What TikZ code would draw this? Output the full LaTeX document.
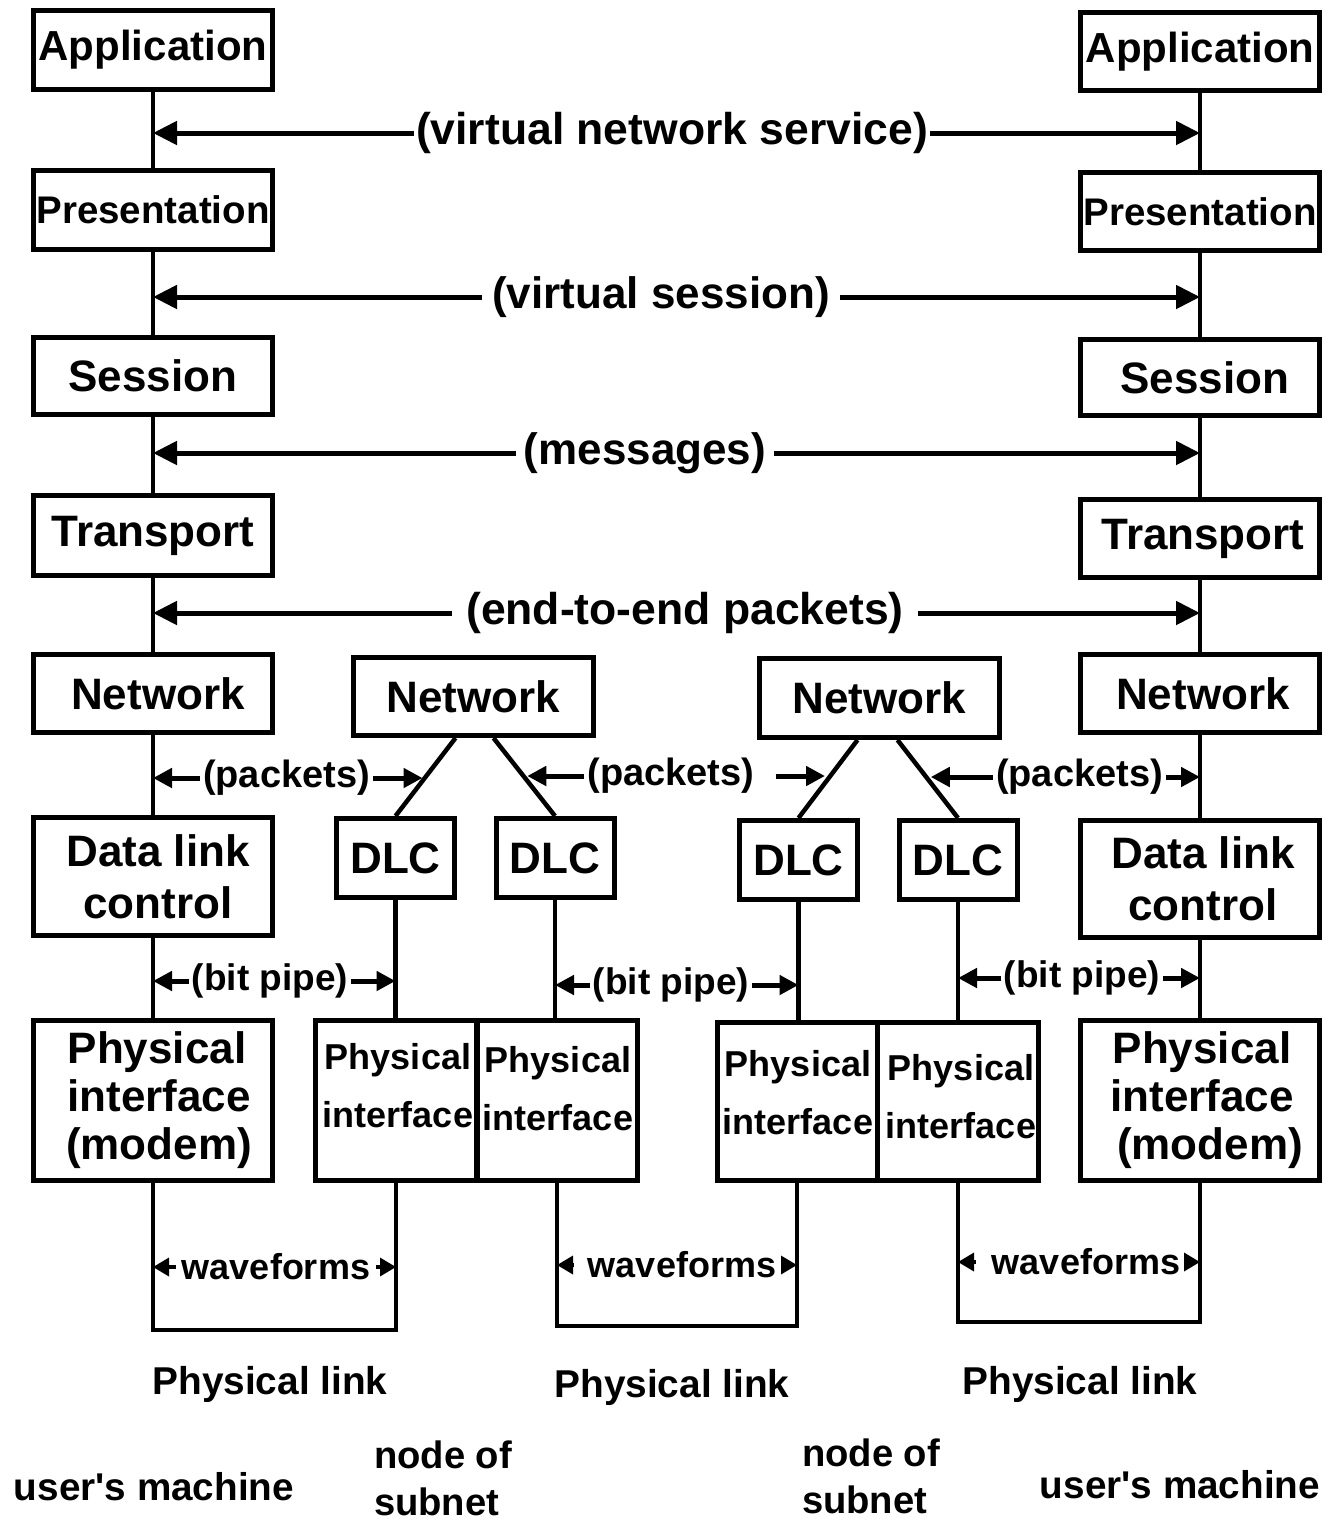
\documentclass[tikz,border=0pt]{standalone}
\usepackage{fontspec}
\setmainfont{Liberation Sans}[Ligatures=TeXOff]
\usetikzlibrary{arrows.meta,calc}

\newcommand{\fsz}[1]{\bfseries\fontsize{#1}{#1}\selectfont}
\newcommand{\fszb}[2]{\bfseries\fontsize{#1}{#2}\selectfont}

\begin{document}
\begin{tikzpicture}[x=1pt,y=-1pt,
  box/.style={draw, line width=5pt, inner sep=0pt, align=center, font=\fsz{44}},
  colbox/.style={box, minimum width=239pt},
  dlcbox/.style={box, minimum width=118pt, minimum height=79pt},
  physbox/.style={box, minimum height=160pt},
  lbl/.style={inner sep=0pt, inner xsep=3pt, font=\fsz{38}},
  biglbl/.style={inner sep=0pt, font=\fsz{44.5}},
  conn/.style={line width=4.5pt},
  bigarrow/.style={line width=5pt, -{Triangle[length=24pt,width=23pt]}},
  midarrow/.style={line width=5pt, -{Triangle[length=19pt,width=19pt]}},
  smallarrow/.style={line width=3.5pt, -{Triangle[length=16pt,width=18pt]}}]

\useasboundingbox (0,0) rectangle (1335,1521);
\fill[white] (0,0) rectangle (1335,1521);

% ---- user's machine, left stack
\node[colbox, minimum height=79pt, font=\fsz{42}] (appL) at (153,50) {Application};
\node[colbox, minimum height=79pt, font=\fsz{38.5}] (presL) at (153,210) {Presentation};
\node[colbox, minimum height=77pt] (sessL) at (153,376) {Session};
\node[colbox, minimum height=80pt] (transL) at (153,535.5) {Transport};
\node[colbox, minimum height=78pt] (netL) at (153,693.5) {\hspace*{10pt}Network};
\node[colbox, minimum height=118pt, font={\fszb{44}{52}}] (dlcL) at (153,876.5) {\hspace*{10pt}Data link\\\hspace*{10pt}control};
\node[colbox, minimum height=160pt, font={\fszb{44}{48}}] (physL) at (153,1100.5) {\hspace*{8pt}Physical\\\hspace*{12pt}interface\\\hspace*{12pt}(modem)};

% ---- user's machine, right stack
\node[colbox, minimum height=78pt, font=\fsz{42}] (appR) at (1200,51.5) {Application};
\node[colbox, minimum height=78pt, font=\fsz{38.5}] (presR) at (1200,211.5) {Presentation};
\node[colbox, minimum height=76pt] (sessR) at (1200,377.5) {\hspace*{10pt}Session};
\node[colbox, minimum height=78pt] (transR) at (1200,538.5) {\hspace*{6pt}Transport};
\node[colbox, minimum height=78pt] (netR) at (1200,693.5) {\hspace*{6pt}Network};
\node[colbox, minimum height=117pt, font={\fszb{44}{52}}] (dlcR) at (1200,879) {\hspace*{6pt}Data link\\\hspace*{6pt}control};
\node[colbox, minimum height=160pt, font={\fszb{44}{48}}] (physR) at (1200,1100.5) {\hspace*{4pt}Physical\\\hspace*{4pt}interface\\\hspace*{20pt}(modem)};

% ---- subnet nodes
\node[box, minimum width=240pt, minimum height=78pt] (net2) at (473.5,696.5) {Network};
\node[box, minimum width=240pt, minimum height=79pt] (net3) at (879.5,698) {Network};
\node[dlcbox] (dlc1) at (395.5,858) {DLC};
\node[dlcbox] (dlc2) at (555,858) {DLC};
\node[dlcbox] (dlc3) at (798.5,860) {DLC};
\node[dlcbox] (dlc4) at (958,860) {DLC};
\node[physbox, minimum width=161pt] (physA) at (396,1100.5) {};
\node[physbox, minimum width=160pt] (physB) at (557,1100.5) {};
\node[physbox, minimum width=160pt, minimum height=158pt] (physC) at (797,1101.5) {};
\node[physbox, minimum width=161pt, minimum height=158pt] (physD) at (958,1101.5) {};
\node[font={\fszb{36}{58}}, align=center, inner sep=0pt] (tA) at (398,1086) {Physical\\interface};
\node[font={\fszb{36}{58}}, align=center, inner sep=0pt] (tB) at (558,1089) {Physical\\interface};
\node[font={\fszb{36}{58}}, align=center, inner sep=0pt] (tC) at (798,1093) {Physical\\interface};
\node[font={\fszb{36}{58}}, align=center, inner sep=0pt] (tD) at (961,1097) {Physical\\interface};

% ---- vertical links in the end stacks
\foreach \a/\b in {appL/presL,presL/sessL,sessL/transL,transL/netL,netL/dlcL,
                   appR/presR,presR/sessR,sessR/transR,transR/netR,netR/dlcR}
  \draw[conn] (\a.south) -- (\b.north);
\draw[conn] (dlcL.south) -- (dlcL.south |- physL.north);
\draw[conn] (dlcR.south) -- (dlcR.south |- physR.north);

% ---- subnet links
\coordinate (n2a) at ([xshift=-18pt]net2.south);
\coordinate (n2b) at ([xshift=20pt]net2.south);
\coordinate (n3a) at ([xshift=-22pt]net3.south);
\coordinate (n3b) at ([xshift=18pt]net3.south);
\draw[conn] (n2a) -- (dlc1.north) coordinate[pos=0.5] (s1);
\draw[conn] (n2b) -- (dlc2.north) coordinate[pos=0.5] (s2);
\draw[conn] (n3a) -- (dlc3.north) coordinate[pos=0.5] (s3);
\draw[conn] (n3b) -- (dlc4.north) coordinate[pos=0.5] (s4);
\draw[conn] (dlc1.south) -- (dlc1.south |- physA.north);
\draw[conn] (dlc2.south) -- (dlc2.south |- physB.north);
\draw[conn] (dlc3.south) -- (dlc3.south |- physC.north);
\draw[conn] (dlc4.south) -- (dlc4.south |- physD.north);

% ---- physical links
\coordinate (b1) at (0,1330);
\coordinate (b2) at (0,1326);
\coordinate (b3) at (0,1322);
\draw[conn] (physL.south) -- (physL.south |- b1) -| (physA.south);
\draw[conn] (physB.south) -- (physB.south |- b2) -| (physC.south);
\draw[conn] (physD.south) -- (physD.south |- b3) -| (physR.south);

% ---- peer-to-peer labels
\node[biglbl, inner xsep=2pt] (vns) at (672,133) {(virtual network service)};
\node[biglbl, font=\fsz{44}, inner xsep=10pt] (vs) at (661,297) {(virtual session)};
\node[biglbl, font=\fsz{44}, inner xsep=8pt] (msg) at (645,453) {(messages)};
\node[biglbl, inner xsep=14pt] (e2e) at (685,613) {(end-to-end packets)};
\foreach \n/\l/\r in {vns/appL/appR, vs/presL/presR, msg/sessL/sessR, e2e/transL/transR} {
  \draw[bigarrow] (\n.west) -- (\l.south |- \n.west);
  \draw[bigarrow] (\n.east) -- (\r.south |- \n.east);
}

\node[lbl] (pk1) at (286.5,778) {(packets)};
\node[lbl] (pk2) at (671,776) {(packets)};
\node[lbl] (pk3) at (1079.5,777) {(packets)};
\draw[midarrow] (pk1.west) -- (netL.south |- pk1.west);
\draw[midarrow, shorten >=3pt] (pk1.east) -- (pk1.east -| s1);
\draw[midarrow, shorten >=3pt] (pk2.west) -- (pk2.west -| s2);
\draw[midarrow, shorten >=3pt] ([xshift=18pt]pk2.east) -- (pk2.east -| s3);
\draw[midarrow, shorten >=3pt] (pk3.west) -- (pk3.west -| s4);
\draw[midarrow] (pk3.east) -- (netR.south |- pk3.east);

\node[lbl, font=\fsz{37}] (bp1) at (270,981) {(bit pipe)};
\node[lbl, font=\fsz{37}] (bp2) at (671,985) {(bit pipe)};
\node[lbl, font=\fsz{37}] (bp3) at (1082,978) {(bit pipe)};
\draw[midarrow] (bp1.west) -- (dlcL.south |- bp1.west);
\draw[midarrow] (bp1.east) -- (dlc1.south |- bp1.east);
\draw[midarrow] (bp2.west) -- (dlc2.south |- bp2.west);
\draw[midarrow] (bp2.east) -- (dlc3.south |- bp2.east);
\draw[midarrow] (bp3.west) -- (dlc4.south |- bp3.west);
\draw[midarrow] (bp3.east) -- (dlcR.south |- bp3.east);

\node[lbl, font=\fsz{36}, inner xsep=6pt] (wf1) at (276,1267) {waveforms};
\node[lbl, font=\fsz{36}, inner xsep=6pt] (wf2) at (682,1265) {waveforms};
\node[lbl, font=\fsz{36}, inner xsep=6pt] (wf3) at (1086,1262) {waveforms};
\draw[smallarrow] (wf1.west) -- (physL.south |- wf1.west);
\draw[smallarrow] (wf1.east) -- (physA.south |- wf1.east);
\draw[smallarrow] ([xshift=-8pt]wf2.west) -- (physB.south |- wf2.west);
\draw[smallarrow] (wf2.east) -- (physC.south |- wf2.east);
\draw[smallarrow] ([xshift=-10pt]wf3.west) -- (physD.south |- wf3.west);
\draw[smallarrow] (wf3.east) -- (physR.south |- wf3.east);

% ---- captions
\node[lbl, font=\fsz{38.8}] (pl1) at (270,1384) {Physical link};
\node[lbl, font=\fsz{38.8}] (pl2) at (672,1387) {Physical link};
\node[lbl, font=\fsz{38.8}] (pl3) at (1080,1384) {Physical link};
\node[lbl, font=\fsz{38.7}] (um1) at (154,1487) {user's machine};
\node[lbl, font=\fsz{38.7}] (um2) at (1180,1485) {user's machine};
\node[lbl, font={\fszb{38.2}{47}}, align=left] (ns1) at (443,1478) {node of\\subnet};
\node[lbl, font={\fszb{38.2}{47}}, align=left] (ns2) at (871,1476) {node of\\subnet};
\end{tikzpicture}
\end{document}
